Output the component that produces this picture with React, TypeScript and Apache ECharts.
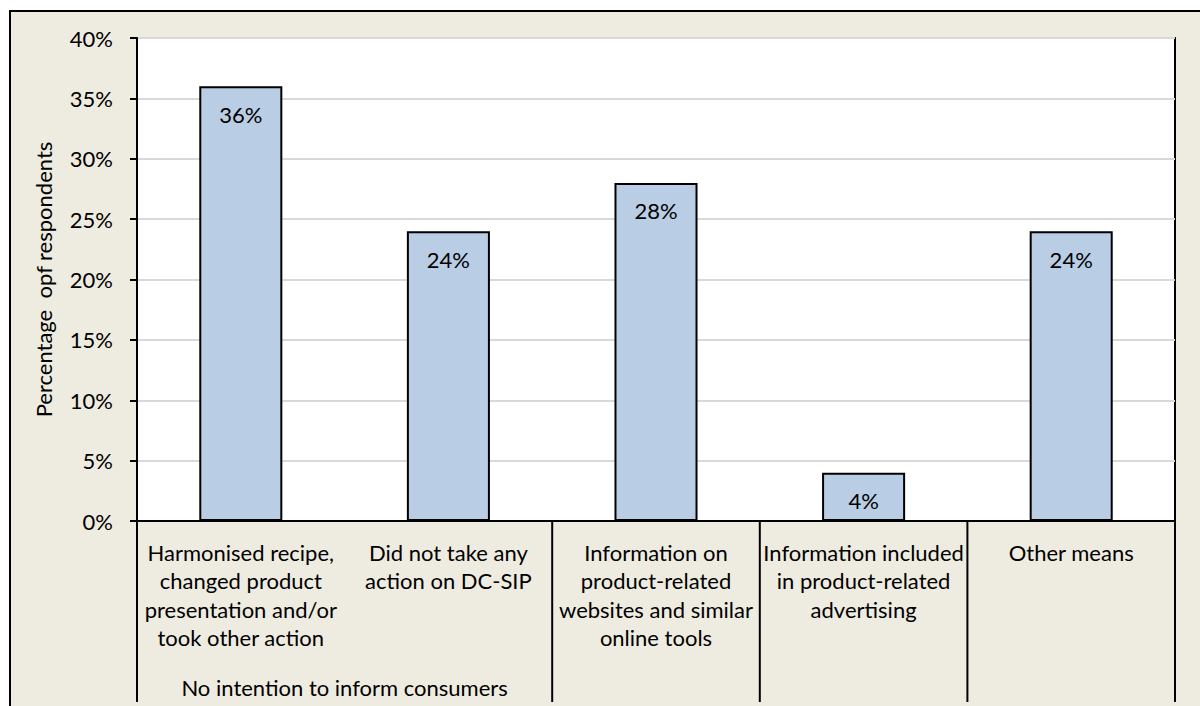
import { useEffect, useRef } from "react";
import * as echarts from "echarts";

const categories = [
  "Harmonised recipe,\nchanged product\npresentation and/or\ntook other action",
  "Did not take any\naction on DC-SIP",
  "Information on\nproduct-related\nwebsites and similar\nonline tools",
  "Information included\nin product-related\nadvertising",
  "Other means",
];
const values = [36, 24, 28, 4, 24];
const groupLabel = "No intention to inform consumers";
const groupStart = 0;
const groupEnd = 1;
const yMin = 0;
const yMax = 40;
const yInterval = 5;
const yAxisTitle = "Percentage  opf respondents";

const FONT = "Lato, 'Open Sans', sans-serif";
const FS = 22;

export default function App() {
  const ref = useRef<HTMLDivElement>(null);
  useEffect(() => {
    const chart = echarts.init(ref.current!, null, { renderer: "svg" });
    chart.setOption({
      animation: false,
      textStyle: { fontFamily: FONT },
      grid: {
        left: 137,
        top: 38,
        right: 25,
        bottom: 185,
        show: true,
        backgroundColor: "#ffffff",
        borderColor: "#000000",
        borderWidth: 2,
      },
      xAxis: {
        type: "category",
        data: categories,
        axisLine: { lineStyle: { color: "#000", width: 2 } },
        axisTick: { show: false },
        axisLabel: {
          interval: 0,
          color: "#000",
          fontSize: FS,
          lineHeight: 28.5,
          margin: 17,
          fontFamily: FONT,
        },
      },
      yAxis: {
        type: "value",
        min: yMin,
        max: yMax,
        interval: yInterval,
        name: yAxisTitle,
        nameLocation: "middle",
        nameGap: 83,
        nameTextStyle: { color: "#000", fontSize: FS, fontFamily: FONT },
        axisLine: { show: true, lineStyle: { color: "#000", width: 2 } },
        axisTick: { show: true, length: 7, lineStyle: { color: "#000", width: 2 } },
        axisLabel: {
          formatter: "{value}%",
          color: "#000",
          fontSize: FS,
          margin: 24,
          fontFamily: FONT,
        },
        splitLine: { show: true, lineStyle: { color: "#D9D9D9", width: 2 } },
      },
      series: [
        {
          type: "bar",
          data: values,
          barWidth: "40%",
          itemStyle: { color: "#B9CDE5", borderColor: "#000", borderWidth: 2 },
          label: {
            show: true,
            position: "insideTop",
            distance: 17,
            formatter: "{c}%",
            color: "#000",
            fontSize: FS,
            fontFamily: FONT,
          },
        },
      ],
    });

    const n = categories.length;
    const c0 = chart.convertToPixel({ xAxisIndex: 0 }, 0) as number;
    const c1 = chart.convertToPixel({ xAxisIndex: 0 }, 1) as number;
    const step = c1 - c0;
    const baseY = chart.convertToPixel({ yAxisIndex: 0 }, yMin) as number;
    const bottomY = 702;
    const graphics: any[] = [];
    for (let i = 0; i <= n; i++) {
      if (i > groupStart && i <= groupEnd) continue;
      const x = c0 - step / 2 + i * step;
      graphics.push({
        type: "line",
        shape: { x1: x, y1: baseY, x2: x, y2: bottomY },
        style: { stroke: "#000", lineWidth: 2 },
        silent: true,
      });
    }
    const gx =
      ((chart.convertToPixel({ xAxisIndex: 0 }, groupStart) as number) +
        (chart.convertToPixel({ xAxisIndex: 0 }, groupEnd) as number)) /
      2;
    graphics.push({
      type: "text",
      x: gx,
      y: 687,
      style: {
        text: groupLabel,
        fill: "#000",
        font: `${FS}px ${FONT}`,
        align: "center",
        verticalAlign: "middle",
      },
      silent: true,
    });
    chart.setOption({ graphic: graphics });

    return () => chart.dispose();
  }, []);

  return (
    <div
      style={{
        position: "fixed",
        left: 0,
        top: 0,
        width: 1200,
        height: 706,
        overflow: "hidden",
        background: "#ffffff",
      }}
    >
      <div
        style={{
          position: "absolute",
          left: 9,
          top: 10,
          width: 1300,
          height: 800,
          background: "#EEECE1",
          borderLeft: "2px solid #000",
          borderTop: "2px solid #000",
        }}
      />
      <div
        ref={ref}
        style={{ position: "absolute", left: 0, top: 0, width: 1200, height: 706 }}
      />
    </div>
  );
}
